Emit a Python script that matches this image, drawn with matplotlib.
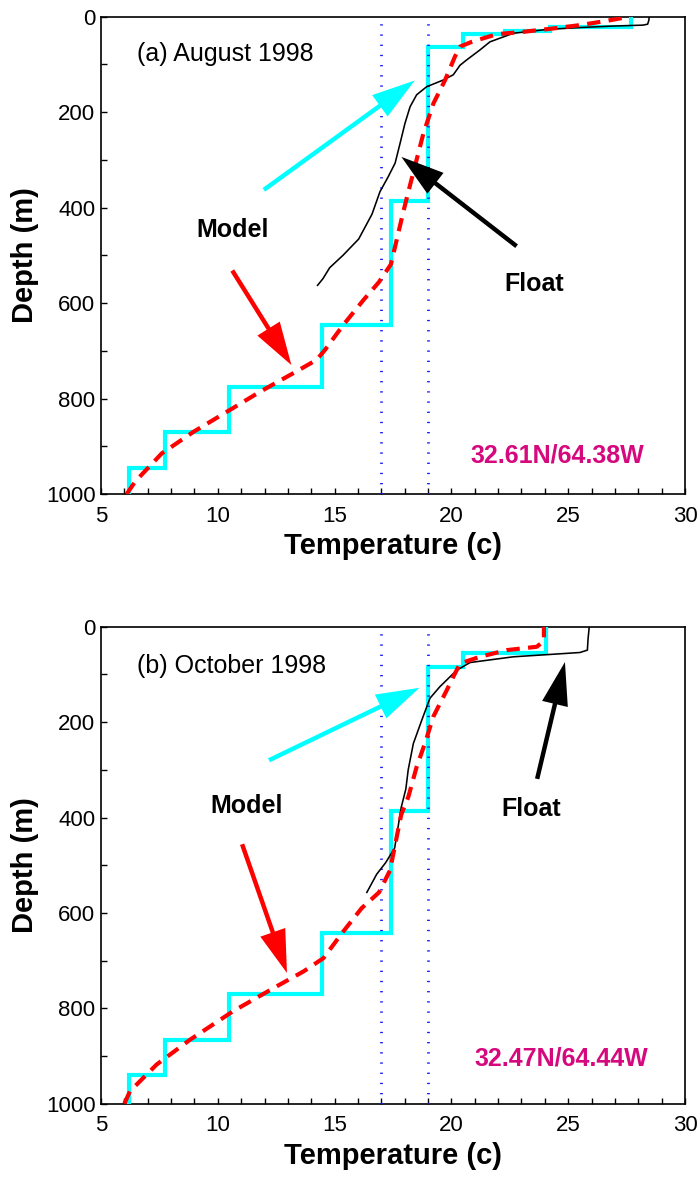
import matplotlib
matplotlib.use("Agg")
import matplotlib.pyplot as plt
from matplotlib.patches import FancyArrowPatch
from matplotlib.ticker import MultipleLocator

plt.rcParams["font.family"] = ["Liberation Sans", "DejaVu Sans"]

# ---------------- (a) August 1998 ----------------
aug_layer_edges = [0, 22, 30, 37, 63, 386, 646, 775, 870, 945, 1000]
aug_layer_temp = [27.7, 24.2, 22.3, 20.5, 19.0, 17.4, 14.46, 10.5, 7.72, 6.19]

aug_model_temp = [6.1, 6.46, 7.6, 8.95, 10.38, 11.8, 13.23, 14.23, 14.59, 15.37,
                  16.23, 16.9, 17.41, 17.95, 18.23, 18.8, 19.23, 19.73, 20.15,
                  20.37, 20.87, 21.94, 23.08, 24.36, 25.5, 26.65, 27.65]
aug_model_depth = [1000, 974, 915, 870, 828, 786, 747, 719, 698, 646,
                   594, 556, 519, 407, 353, 245, 182, 133, 84,
                   63, 53, 37, 32, 25, 18, 9, 0]

aug_float_temp = [28.47, 28.45, 28.4, 28.2, 26.9, 25.5, 24.1, 22.65, 21.65, 21.22,
                  20.65, 20.37, 20.08, 19.65, 18.94, 18.51, 18.23, 18.01, 17.8,
                  17.59, 17.3, 16.94, 16.6, 16.03, 15.36, 14.79, 14.5, 14.27]
aug_float_depth = [0, 8, 16, 18, 20, 23, 27, 35, 53, 70,
                   91, 102, 122, 133, 147, 164, 189, 224, 266,
                   307, 335, 367, 414, 466, 500, 526, 549, 563]

# ---------------- (b) October 1998 ----------------
oct_layer_edges = [0, 55, 84, 387, 643, 771, 866, 940, 1000]
oct_layer_temp = [24.05, 20.5, 19.0, 17.41, 14.46, 10.5, 7.72, 6.19]

oct_model_temp = [6.0, 6.24, 7.38, 8.81, 10.66, 12.52, 13.66, 14.52, 15.37, 16.16,
                  16.9, 17.37, 17.85, 18.16, 18.51, 18.87, 19.23, 19.8, 20.08,
                  20.37, 21.22, 22.37, 23.65, 23.96, 23.96]
oct_model_depth = [1000, 974, 918, 866, 806, 754, 723, 695, 639, 590,
                   557, 511, 394, 356, 294, 244, 188, 133, 105,
                   77, 63, 49, 42, 30, 0]

oct_float_temp = [25.9, 25.85, 25.82, 25.5, 22.65, 20.8, 20.23, 19.5, 19.08, 18.73,
                  18.37, 18.15, 18.05, 17.85, 17.57, 17.18, 16.8, 16.38]
oct_float_depth = [0, 25, 49, 54, 63, 75, 91, 126, 150, 196,
                   245, 300, 340, 379, 464, 495, 519, 557]

reference_temps = [17, 19]

panels = [
    dict(title="(a) August 1998", title_pos=(6.53, 79),
         edges=aug_layer_edges, layers=aug_layer_temp,
         mt=aug_model_temp, md=aug_model_depth,
         ft=aug_float_temp, fd=aug_float_depth,
         model_lbl=(10.62, 448), float_lbl=(23.56, 560),
         loc="32.61N/64.38W", loc_pos=(24.55, 920),
         cyan_arrow=((11.97, 363), (18.43, 134)),
         black_arrow=((22.79, 481), (17.86, 294)),
         red_arrow=((10.62, 532), (13.15, 730)),
         rect=[0.1443, 0.5817, 0.8343, 0.4043]),
    dict(title="(b) October 1998", title_pos=(6.53, 82),
         edges=oct_layer_edges, layers=oct_layer_temp,
         mt=oct_model_temp, md=oct_model_depth,
         ft=oct_float_temp, fd=oct_float_depth,
         model_lbl=(11.23, 375), float_lbl=(23.42, 383),
         loc="32.47N/64.44W", loc_pos=(24.72, 906),
         cyan_arrow=((12.19, 280), (18.63, 128)),
         black_arrow=((23.67, 319), (24.86, 74)),
         red_arrow=((11.04, 456), (12.96, 726)),
         rect=[0.1443, 0.0655, 0.8343, 0.4038]),
]


def draw_arrow(ax, tail, tip, color):
    ax.add_patch(FancyArrowPatch(
        tail, tip,
        arrowstyle="simple,head_length=31,head_width=19,tail_width=3.2",
        mutation_scale=1, color=color, lw=0, shrinkA=0, shrinkB=0, zorder=6))


fig = plt.figure(figsize=(7, 11.81), dpi=100)

for p in panels:
    ax = fig.add_axes(p["rect"])
    ax.set_xlim(5, 30)
    ax.set_ylim(1000, 0)

    # model layers (step profile)
    ax.stairs(p["layers"], p["edges"], orientation="horizontal", baseline=None,
              color="#00ffff", lw=3, zorder=3)
    # reference isotherms
    for t in reference_temps:
        ax.axvline(t, color="#1a1aff", lw=2.0, ls=(0, (0.47, 3.2)),
                   dash_capstyle="butt", zorder=4)
    # float profile
    ax.plot(p["ft"], p["fd"], color="black", lw=1.15, zorder=5)
    # model continuous profile
    ax.plot(p["mt"], p["md"], color="red", lw=3, ls=(0, (3.2, 2.0)),
            dash_capstyle="butt", zorder=5)

    draw_arrow(ax, *p["cyan_arrow"], "#00ffff")
    draw_arrow(ax, *p["black_arrow"], "black")
    draw_arrow(ax, *p["red_arrow"], "red")

    ax.text(*p["title_pos"], p["title"], fontsize=18, ha="left", va="center")
    ax.text(*p["model_lbl"], "Model", fontsize=18, fontweight="bold",
            ha="center", va="center")
    ax.text(*p["float_lbl"], "Float", fontsize=18, fontweight="bold",
            ha="center", va="center")
    ax.text(*p["loc_pos"], p["loc"], fontsize=18, fontweight="bold",
            color="#d6087e", ha="center", va="center")

    ax.xaxis.set_major_locator(MultipleLocator(5))
    ax.xaxis.set_minor_locator(MultipleLocator(1))
    ax.yaxis.set_major_locator(MultipleLocator(200))
    ax.yaxis.set_minor_locator(MultipleLocator(100))
    ax.tick_params(which="both", direction="in", length=4, width=1,
                   top=False, right=False)
    ax.tick_params(axis="x", which="major", labelsize=16, pad=8.5)
    ax.tick_params(axis="y", which="major", labelsize=16, pad=4)
    for s in ax.spines.values():
        s.set_linewidth(1.2)

    ax.set_xlabel("Temperature (c)", fontsize=21, fontweight="bold", labelpad=4)
    ax.set_ylabel("Depth (m)", fontsize=21, fontweight="bold", labelpad=5)

fig.savefig("out.png", dpi=100)
